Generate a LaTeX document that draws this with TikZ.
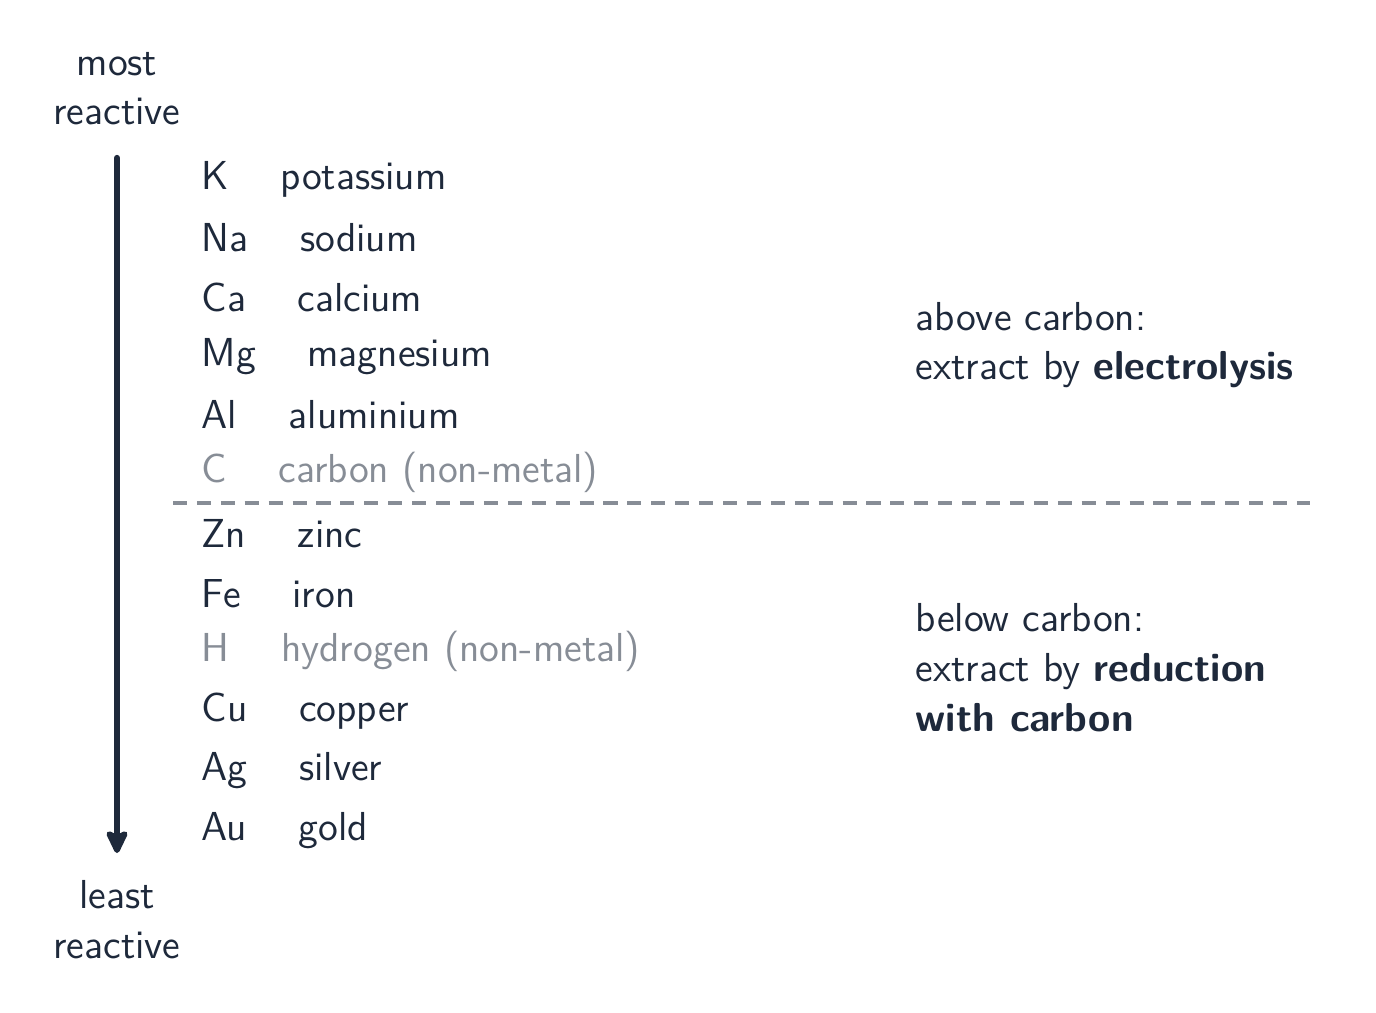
\documentclass[tikz,border=0pt]{standalone}
\usetikzlibrary{arrows.meta}
\renewcommand{\familydefault}{\sfdefault}
\definecolor{ink}{HTML}{1E293B}
\definecolor{muted}{HTML}{878D96}
\tikzset{
  elem/.style={anchor=base west, inner sep=0pt, text=ink, font=\fontsize{11.5}{14.2}\selectfont},
  nonmetal/.style={elem, text=muted},
  note/.style={anchor=base west, inner sep=0pt, text=ink, align=left, font=\fontsize{11.5}{14.2}\selectfont},
  ends/.style={inner sep=0pt, text=ink, align=center, font=\fontsize{11.5}{14.2}\selectfont}
}
\newcommand{\gap}{\hspace{1.28em}}
\begin{document}
\begin{tikzpicture}[x=0.01cm, y=-0.01cm]
    \useasboundingbox (0,0) rectangle (1376,1013);

    % Ends of the scale
    \node[ends, anchor=base] (mostR) at (117,125) {most\\reactive};
    \node[ends, anchor=base] (leastR) at (117,958) {least\\reactive};

    % Elements
    \node[elem] (rowK) at (201,190) {K\gap potassium};
    \node[elem] (rowNa) at (201,252) {Na\gap sodium};
    \node[elem] (rowCa) at (201,312) {Ca\gap calcium};
    \node[elem] (rowMg) at (201,367) {Mg\gap magnesium};
    \node[elem] (rowAl) at (201,429) {Al\gap aluminium};
    \node[nonmetal] (rowC) at (201,483) {C\gap carbon (non-metal)};
    \node[elem] (rowZn) at (201,548) {Zn\gap zinc};
    \node[elem] (rowFe) at (201,607) {Fe\gap iron};
    \node[nonmetal] (rowH) at (201,662) {H\gap hydrogen (non-metal)};
    \node[elem] (rowCu) at (201,721) {Cu\gap copper};
    \node[elem] (rowAg) at (201,780) {Ag\gap silver};
    \node[elem] (rowAu) at (201,840) {Au\gap gold};

    % Notes
    \node[note] (noteAbove) at (915,380) {above carbon:\\extract by \textbf{electrolysis}};
    \node[note] (noteBelow) at (915,731) {below carbon:\\extract by \textbf{reduction}\\\textbf{with carbon}};

    % Arrow and divider
    \coordinate (arrTop) at (117,158);
    \coordinate (arrBot) at (117,853);
    \draw[-{Stealth[round, length=8pt, width=7.5pt, inset=1.8pt]}, ink, line width=1.8pt, line cap=round] (arrTop) -- (arrBot);
    \coordinate (divL) at (173,503);
    \coordinate (divR) at (1310,503);
    \draw[muted, line width=1pt, dash pattern=on 4pt off 2.8pt] (divL) -- (divR);
\end{tikzpicture}
\end{document}
